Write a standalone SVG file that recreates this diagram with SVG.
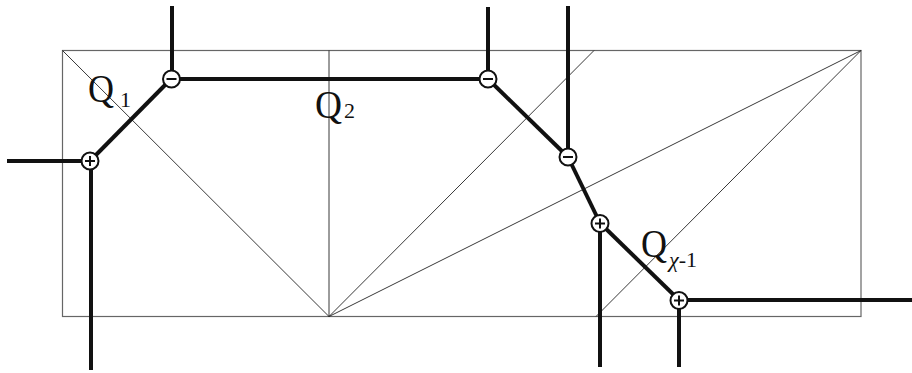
<svg xmlns="http://www.w3.org/2000/svg" width="912" height="373" viewBox="0 0 912 373">
<style>
.frame{fill:none;stroke:#666;stroke-width:1.2}
.thin{stroke:#222;stroke-width:0.9;fill:none}
.thick{stroke:#111;stroke-width:4;fill:none}
.node circle{fill:#fff;stroke:#111;stroke-width:2}
.node path{stroke:#111;stroke-width:2;fill:none}
text{font-family:'Liberation Serif','Times New Roman',serif;fill:#111}
.q{font-size:41px}
.sub{font-size:22px}
</style>
<rect class="frame" x="62.5" y="50.5" width="798.5" height="266"/>
<g id="triangulation" class="thin">
<line x1="329" y1="50.5" x2="329" y2="316.5"/>
<line x1="62.5" y1="50.5" x2="329" y2="316.5"/>
<line x1="329" y1="316.5" x2="594" y2="50.5"/>
<line x1="329" y1="316.5" x2="861" y2="50.5"/>
<line x1="596" y1="316.5" x2="861" y2="50.5"/>
</g>
<g id="connectors" class="thick">
<line x1="7" y1="161" x2="90" y2="161"/>
<line x1="91" y1="161" x2="91" y2="370"/>
<line x1="90" y1="161" x2="171" y2="79"/>
<line x1="172" y1="6" x2="172" y2="79"/>
<line x1="171" y1="79" x2="488" y2="79"/>
<line x1="488" y1="7" x2="488" y2="79"/>
<line x1="488" y1="79" x2="568" y2="157"/>
<line x1="568" y1="6" x2="568" y2="157"/>
<line x1="568" y1="157" x2="600" y2="223"/>
<line x1="600" y1="223" x2="600" y2="367"/>
<line x1="600" y1="223" x2="679" y2="300"/>
<line x1="679" y1="300" x2="679" y2="367"/>
<line x1="679" y1="300" x2="912" y2="300"/>
</g>
<g id="p1" class="node"><circle cx="90" cy="161" r="8.5"/><path d="M85 161H95M90 156V166"/></g>
<g id="m1" class="node"><circle cx="171.5" cy="79" r="8.5"/><path d="M166.5 79H176.5"/></g>
<g id="m2" class="node"><circle cx="488" cy="79" r="8.5"/><path d="M483 79H493"/></g>
<g id="m3" class="node"><circle cx="568" cy="157" r="8.5"/><path d="M563 157H573"/></g>
<g id="p2" class="node"><circle cx="600" cy="223.5" r="8.5"/><path d="M595 223.5H605M600 218.5V228.5"/></g>
<g id="p3" class="node"><circle cx="679" cy="300.5" r="8.5"/><path d="M674 300.5H684M679 295.5V305.5"/></g>
<g id="labels">
<text x="88" y="102" class="q" textLength="26" lengthAdjust="spacingAndGlyphs">Q</text>
<text x="120" y="107" class="sub">1</text>
<text x="315" y="118" class="q" textLength="27" lengthAdjust="spacingAndGlyphs">Q</text>
<text x="344" y="118" class="sub">2</text>
<text x="641" y="257" class="q" textLength="26" lengthAdjust="spacingAndGlyphs">Q</text>
<text x="669" y="267" class="sub"><tspan font-style="italic">χ</tspan>-1</text>
</g>
</svg>
